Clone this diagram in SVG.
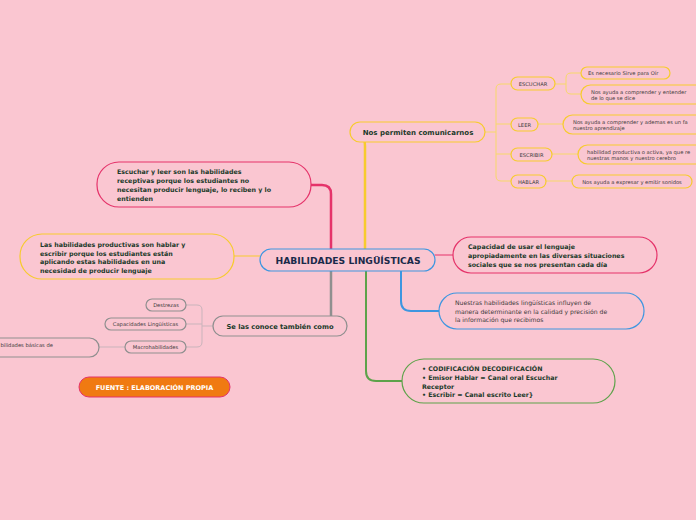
<svg xmlns="http://www.w3.org/2000/svg" width="696" height="520" viewBox="0 0 696 520">
<style>
.bg{fill:#FAC6D1}
.n{fill:#FAC6D1;stroke-width:1.2}
.y{stroke:#F7CB2E}
.r{stroke:#E5336A}
.b{stroke:#3E96E0}
.g{stroke:#5DA24A}
.gr{stroke:#8F8F8F}
.c{fill:none;stroke-linecap:round}
.t{font-family:"DejaVu Sans",Verdana,sans-serif;fill:#1B3A2A;font-weight:bold}
.s{font-family:"DejaVu Sans",Verdana,sans-serif;fill:#3A3A3A;font-size:5.2px}
.m{font-family:"DejaVu Sans",Verdana,sans-serif;fill:#3A3A3A;font-size:6.1px}
</style>
<rect class="bg" x="0" y="0" width="696" height="520"/>
<g id="connectors">
<path class="c r" stroke-width="2.5" d="M311 185 H322 Q331 185 331 194 V250"/>
<path class="c y" stroke-width="2.5" d="M352 132 Q365 132 365 146 V250"/>
<path class="c gr" stroke-width="2.5" d="M331 270 V315 Q331 326 346 326"/>
<path class="c g" stroke-width="2" d="M366 270 V371 Q366 381 376 381 H402"/>
<path class="c b" stroke-width="2" d="M401 270 V301 Q401 311 411 311 H440"/>
<path class="c r" stroke-width="1" d="M435 255 H453"/>
<path class="c y" stroke-width="1" d="M234 256 H260"/>
<g stroke="#C9B4BB" stroke-width="1" fill="none">
<path d="M213 326 H202"/>
<path d="M186 305 H197 Q202 305 202 310 V342 Q202 347 197 347 H186"/>
<path d="M186 324 H202"/>
<path d="M99 347 H125"/>
</g>
<g stroke="#F7D86A" stroke-width="1" fill="none">
<path d="M485 132 H496"/>
<path d="M511 84 H501 Q496 84 496 89 V176 Q496 181 501 181 H511"/>
<path d="M496 124 H511"/>
<path d="M496 154 H511"/>
<path d="M555 84 H566"/>
<path d="M581 73 H571 Q566 73 566 78 V89 Q566 94 571 94 H581"/>
<path d="M538 124 H563"/>
<path d="M552 154 H578"/>
<path d="M546 181 H572"/>
</g>
</g>
<g id="central">
<rect class="n b" x="260" y="249" width="175" height="22" rx="11"/>
<text class="t" x="348" y="264.2" font-size="9.2" text-anchor="middle" style="fill:#1A2A4A">HABILIDADES LINGÜÍSTICAS</text>
</g>
<g id="receptivas">
<rect class="n r" x="97" y="162" width="214" height="45" rx="22"/>
<text class="t" font-size="6.3"><tspan x="117" y="174">Escuchar y leer son las habilidades</tspan><tspan x="117" y="183">receptivas porque los estudiantes no</tspan><tspan x="117" y="192">necesitan producir lenguaje, lo reciben y lo</tspan><tspan x="117" y="201">entienden</tspan></text>
</g>
<g id="productivas">
<rect class="n y" x="20" y="234" width="214" height="45" rx="22"/>
<text class="t" font-size="6.3"><tspan x="40" y="247">Las habilidades productivas son hablar y</tspan><tspan x="40" y="255.5">escribir porque los estudiantes están</tspan><tspan x="40" y="264">aplicando estas habilidades en una</tspan><tspan x="40" y="272.5">necesidad de producir lenguaje</tspan></text>
</g>
<g id="capacidad">
<rect class="n r" x="453" y="237" width="204" height="36" rx="18"/>
<text class="t" font-size="6.3"><tspan x="468" y="249">Capacidad de usar el lenguaje</tspan><tspan x="468" y="258">apropiadamente en las diversas situaciones</tspan><tspan x="468" y="266.5">sociales que se nos presentan cada día</tspan></text>
</g>
<g id="nuestras">
<rect class="n b" x="439" y="293" width="205" height="36" rx="18"/>
<text class="m"><tspan x="455" y="305">Nuestras habilidades lingüísticas influyen de</tspan><tspan x="455" y="313.5">manera determinante en la calidad y precisión de</tspan><tspan x="455" y="322">la información que recibimos</tspan></text>
</g>
<g id="codificacion">
<rect class="n g" x="402" y="359" width="213" height="44" rx="22"/>
<text class="t" font-size="6.3"><tspan x="422" y="371">• CODIFICACIÓN DECODIFICACIÓN</tspan><tspan x="422" y="380">• Emisor Hablar = Canal oral Escuchar</tspan><tspan x="422" y="388.5">Receptor</tspan><tspan x="422" y="397">• Escribir = Canal escrito Leer}</tspan></text>
</g>
<g id="conoce">
<rect class="n gr" x="213" y="316" width="134" height="20" rx="10"/>
<text class="t" x="280" y="328.5" font-size="6.7" text-anchor="middle">Se las conoce también como</text>
</g>
<g id="destrezas">
<rect class="n gr" x="146" y="299" width="40" height="12" rx="6" stroke-width="0.8"/>
<text class="s" x="166" y="307" text-anchor="middle">Destrezas</text>
</g>
<g id="capacidades">
<rect class="n gr" x="105" y="318" width="81" height="12" rx="6" stroke-width="0.8"/>
<text class="s" x="145.5" y="326" text-anchor="middle">Capacidades Lingüísticas</text>
</g>
<g id="macro">
<rect class="n gr" x="125" y="341" width="61" height="12" rx="6" stroke-width="0.8"/>
<text class="s" x="155.5" y="349" text-anchor="middle">Macrohabilidades</text>
</g>
<g id="basicas">
<rect class="n gr" x="-60" y="338" width="159" height="19" rx="9.5" stroke-width="0.8"/>
<text class="s" x="0.5" y="346.5">bilidades básicas de</text>
</g>
<g id="fuente">
<rect x="79" y="377" width="151" height="20" rx="10" fill="#F07A12" stroke="#E5336A" stroke-width="1"/>
<text x="154.5" y="390" font-family="DejaVu Sans,Verdana,sans-serif" font-weight="bold" font-size="6.5" fill="#FFFFFF" text-anchor="middle">FUENTE : ELABORACIÓN PROPIA</text>
</g>
<g id="permiten">
<rect class="n y" x="350" y="122" width="135" height="20" rx="10"/>
<text class="t" x="418" y="134.5" font-size="7" text-anchor="middle">Nos permiten comunicarnos</text>
</g>
<g id="escuchar">
<rect class="n y" x="511" y="77" width="44" height="13" rx="6.5" stroke-width="1"/>
<text class="s" x="533" y="86" text-anchor="middle">ESCUCHAR</text>
</g>
<g id="leer">
<rect class="n y" x="511" y="118" width="27" height="13" rx="6.5" stroke-width="1"/>
<text class="s" x="524.5" y="127" text-anchor="middle">LEER</text>
</g>
<g id="escribir">
<rect class="n y" x="511" y="148" width="41" height="13" rx="6.5" stroke-width="1"/>
<text class="s" x="531.5" y="157" text-anchor="middle">ESCRIBIR</text>
</g>
<g id="hablar">
<rect class="n y" x="511" y="175" width="35" height="13" rx="6.5" stroke-width="1"/>
<text class="s" x="528.5" y="184" text-anchor="middle">HABLAR</text>
</g>
<g id="oir">
<rect class="n y" x="581" y="67" width="89" height="12" rx="6" stroke-width="1"/>
<text class="s" x="588" y="75">Es necesario Sirve para Oír</text>
</g>
<g id="entender">
<rect class="n y" x="581" y="85" width="140" height="19" rx="9.5" stroke-width="1"/>
<text class="s"><tspan x="591" y="93.5">Nos ayuda a comprender  y entender</tspan><tspan x="591" y="100">de lo que se dice</tspan></text>
</g>
<g id="aprendizaje">
<rect class="n y" x="563" y="115" width="160" height="19" rx="9.5" stroke-width="1"/>
<text class="s"><tspan x="573" y="123.5">Nos ayuda a comprender y ademas es un fa</tspan><tspan x="573" y="130">nuestro aprendizaje</tspan></text>
</g>
<g id="productiva">
<rect class="n y" x="578" y="145" width="150" height="19" rx="9.5" stroke-width="1"/>
<text class="s"><tspan x="587" y="153.5">habilidad productiva o activa, ya que re</tspan><tspan x="587" y="160">nuestras manos y nuestro cerebro</tspan></text>
</g>
<g id="sonidos">
<rect class="n y" x="572" y="175" width="120" height="13" rx="6.5" stroke-width="1"/>
<text class="s" x="632" y="183.5" text-anchor="middle">Nos ayuda a expresar y emitir sonidos</text>
</g>
</svg>
